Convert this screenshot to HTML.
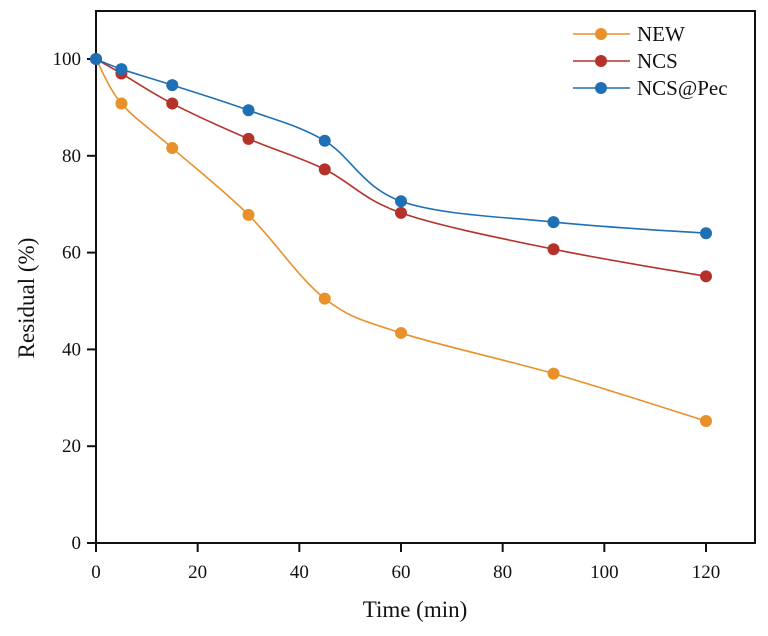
<!DOCTYPE html>
<html><head><meta charset="utf-8"><style>
body{margin:0;background:#fff;}
svg{display:block;font-family:"Liberation Serif",serif;}
</style></head><body>
<svg id="chart" width="768" height="636">
<rect x="96" y="11" width="659" height="532" fill="none" stroke="#111" stroke-width="2"/>
<g id="ticks"></g>
<g id="series"></g>
<text x="415" y="617" font-size="23" text-anchor="middle" fill="#111">Time (min)</text>
<text transform="translate(34,298) rotate(-90)" font-size="23" text-anchor="middle" fill="#111">Residual (%)</text>
<g id="legend"></g>
</svg>
<script>
const times=[0,5,15,30,45,60,90,120];
const newVals=[100,90.8,81.6,67.8,50.5,43.4,35.0,25.2];
const ncsVals=[100,97.0,90.8,83.5,77.2,68.2,60.7,55.1];
const pecVals=[100,97.9,94.6,89.4,83.1,70.6,66.3,64.0];
const seriesNames=["NEW","NCS","NCS@Pec"];
const xTicks=[0,20,40,60,80,100,120];
const yTicks=[0,20,40,60,80,100];
const colors=["#e8912b","#b5322a","#1f6fb5"];
const NS="http://www.w3.org/2000/svg";
function xs(v){return 96+v*(706-96)/120;}
function ys(v){return 543-v*(543-59)/100;}
function mk(t,a,p){const e=document.createElementNS(NS,t);for(const k in a)e.setAttribute(k,a[k]);p.appendChild(e);return e;}
const tg=document.getElementById('ticks');
xTicks.forEach(v=>{
 const l=mk('line',{x1:xs(v),x2:xs(v),y1:543,y2:552,stroke:'#111','stroke-width':2},tg);
 
 
 const t=mk('text',{x:xs(v),y:578,'font-size':19,'text-anchor':'middle',fill:'#111'},tg);t.textContent=v;
 
 
});
yTicks.forEach(v=>{
 const l=mk('line',{x1:87,x2:96,y1:ys(v),y2:ys(v),stroke:'#111','stroke-width':2},tg);
 
 
 const t=mk('text',{x:81,y:ys(v)+6,'font-size':19,'text-anchor':'end',fill:'#111'},tg);t.textContent=v;
 
 
});
function smooth(pts){
 let d=`M${pts[0][0]},${pts[0][1]}`;
 for(let i=0;i<pts.length-1;i++){
  const p0=pts[Math.max(i-1,0)],p1=pts[i],p2=pts[i+1],p3=pts[Math.min(i+2,pts.length-1)];
  const c1=[p1[0]+(p2[0]-p0[0])/6,p1[1]+(p2[1]-p0[1])/6];
  const c2=[p2[0]-(p3[0]-p1[0])/6,p2[1]-(p3[1]-p1[1])/6];
  d+=` C${c1[0]},${c1[1]} ${c2[0]},${c2[1]} ${p2[0]},${p2[1]}`;
 }
 return d;
}
const sg=document.getElementById('series');
[newVals,ncsVals,pecVals].forEach((vals,si)=>{
 const pts=times.map((t,i)=>[xs(t),ys(vals[i])]);
 const p=mk('path',{d:smooth(pts),fill:'none',stroke:colors[si],'stroke-width':1.6},sg);
 
 
 pts.forEach(pt=>{
  const c=mk('circle',{cx:pt[0],cy:pt[1],r:6,fill:colors[si]},sg);
  
  
 });
});
const lg=document.getElementById('legend');
seriesNames.forEach((n,i)=>{
 const y=34+i*27;
 const l=mk('line',{x1:573,x2:630,y1:y,y2:y,stroke:colors[i],'stroke-width':1.6},lg);
 
 
 const c=mk('circle',{cx:601,cy:y,r:6,fill:colors[i]},lg);
 
 
 const t=mk('text',{x:637,y:y+7,'font-size':21,fill:'#111'},lg);t.textContent=n;
 
 
});
</script>
</body></html>
